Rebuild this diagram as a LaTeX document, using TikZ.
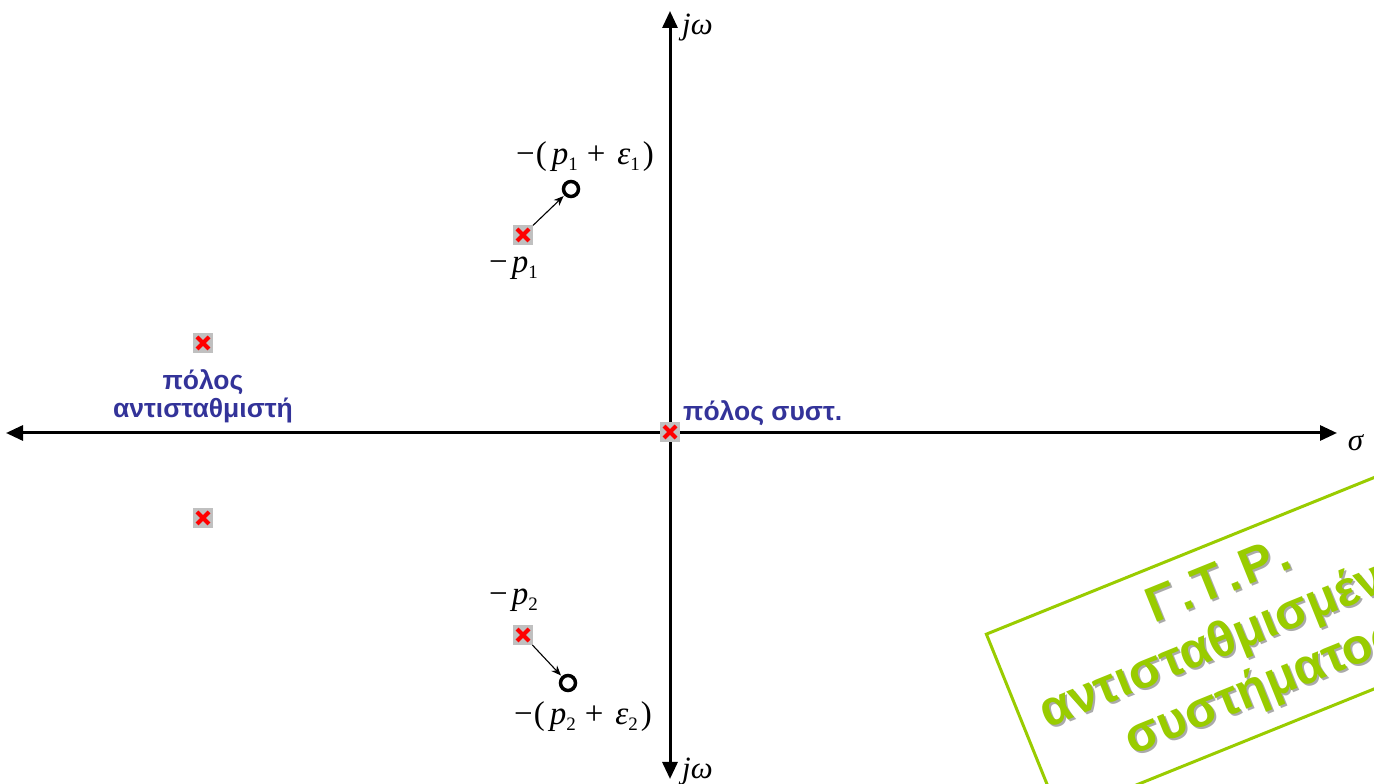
\documentclass[tikz,border=0pt]{standalone}
\usepackage{fontspec}
\setmainfont{Liberation Serif}
\newfontfamily\gsans{Liberation Sans}
\usetikzlibrary{arrows.meta}
\definecolor{polegray}{RGB}{192,192,192}
\definecolor{crossred}{RGB}{255,0,0}
\definecolor{labblue}{RGB}{51,51,153}
\definecolor{boxgreen}{RGB}{153,204,0}
\definecolor{shadowgray}{RGB}{170,170,170}
\newcommand\mysub[1]{\raisebox{-6pt}{\fontsize{19}{19}\selectfont #1}}
\tikzset{
  x=1pt,y=1pt,
  axis/.style={line width=3pt,{Triangle[length=17pt,width=15pt]}-{Triangle[length=17pt,width=15pt]}},
  pole/.style={fill=polegray, minimum size=20pt, inner sep=0pt, outer sep=0pt,
    path picture={\draw[crossred,line width=4pt]
      ([shift={(4pt,4pt)}]path picture bounding box.south west) -- ([shift={(-4pt,-4pt)}]path picture bounding box.north east)
      ([shift={(4pt,-4pt)}]path picture bounding box.north west) -- ([shift={(-4pt,4pt)}]path picture bounding box.south east);}},
  zero/.style={circle, draw=black, line width=3.5pt, minimum size=15pt, inner sep=0pt},
  move/.style={line width=1.1pt,-{Stealth[length=10pt,width=8pt]},shorten >=1pt},
  mlab/.style={font=\fontsize{33}{36}\selectfont, inner sep=0pt},
  wlab/.style={font=\fontsize{31}{34}\selectfont, inner sep=0pt},
  blab/.style={font=\gsans\bfseries\fontsize{26.5}{28}\selectfont, text=labblue, inner sep=0pt},
  gtext/.style={rotate=22, align=center, font=\gsans\bfseries\fontsize{50}{57}\selectfont, inner sep=0pt}
}
\begin{document}
\begin{tikzpicture}
\useasboundingbox (0,0) rectangle (1374,784);
\clip (0,0) rectangle (1374,784);
% axes
\coordinate (xl) at (6,351);
\coordinate (xr) at (1337,351);
\coordinate (yt) at (670,773);
\coordinate (yb) at (670,5);
\draw[axis] (xl) -- (xr);
\draw[axis] (yb) -- (yt);
\node[wlab, anchor=west] (jwt) at (682,756) {\textit{jω}};
\node[wlab, anchor=west] (jwb) at (682,12) {\textit{jω}};
\node[wlab] (sig) at (1356,341) {\textit{σ}};
% poles
\node[pole] (p1) at (523,549) {};
\node[pole] (p2) at (523,149) {};
\node[pole] (c1) at (203,441) {};
\node[pole] (c2) at (203,266) {};
\node[pole] (ps) at (670,352) {};
% zeros
\node[zero] (z1) at (571,595) {};
\node[zero] (z2) at (568,101) {};
\draw[move] (p1) -- (z1);
\draw[move] (p2) -- (z2);
% math labels
\node[mlab, anchor=base west] (lz1) at (516,619) {−\hspace{1pt}(\hspace{5pt}\textit{p}\mysub{1}\hspace{9pt}+\hspace{12pt}\textit{ε}\mysub{1}\hspace{3pt})};
\node[mlab, anchor=base west] (lp1) at (489,511) {−\hspace{4pt}\textit{p}\mysub{1}};
\node[mlab, anchor=base west] (lp2) at (489,179) {−\hspace{4pt}\textit{p}\mysub{2}};
\node[mlab, anchor=base west] (lz2) at (514,59) {−\hspace{1pt}(\hspace{5pt}\textit{p}\mysub{2}\hspace{9pt}+\hspace{12pt}\textit{ε}\mysub{2}\hspace{3pt})};
% blue labels
\node[blab, align=center] (lc) at (203,388) {πόλος\\αντισταθμιστή};
\node[blab, anchor=west] (ls) at (683,371) {πόλος συστ.};
% green box
\node[rotate=22, draw=boxgreen, line width=3pt, minimum width=470pt, minimum height=196pt] (box) at (1241,147) {};
\node[gtext, text=shadowgray] (gs) at ([shift={(2pt,-2pt)}]box.center) {Γ\hspace{3pt}.\hspace{3pt}Τ\hspace{3pt}.\hspace{3pt}Ρ\hspace{3pt}.\\αντισταθμισμένου\\συστήματος};
\node[gtext, text=boxgreen] (gt) at (box.center) {Γ\hspace{3pt}.\hspace{3pt}Τ\hspace{3pt}.\hspace{3pt}Ρ\hspace{3pt}.\\αντισταθμισμένου\\συστήματος};
\end{tikzpicture}
\end{document}
